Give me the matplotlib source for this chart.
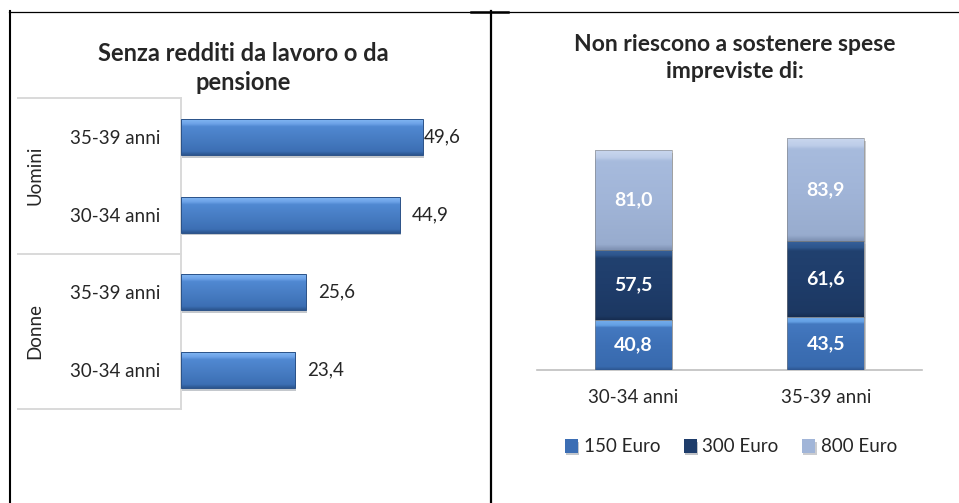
import matplotlib.pyplot as plt
import matplotlib.patheffects as pe
from matplotlib.colors import LinearSegmentedColormap
import numpy as np

plt.rcParams['font.family'] = ['Lato', 'DejaVu Sans']

W, H = 959, 503

# grafico sinistro: senza redditi da lavoro o da pensione
gruppi = ["Uomini", "Donne"]
etichette_sx = ["35-39 anni", "30-34 anni", "35-39 anni", "30-34 anni"]
valori_sx = [49.6, 44.9, 25.6, 23.4]

# grafico destro: spese impreviste
categorie_dx = ["30-34 anni", "35-39 anni"]
euro150 = [40.8, 43.5]
euro300 = [57.5, 61.6]
euro800 = [81.0, 83.9]
nomi_serie = ["150 Euro", "300 Euro", "800 Euro"]


#box: pixel (x0,y0,x1,y1) -> rettangolo in coordinate figura
def box(x0, y0, x1, y1):
    return [x0 / W, 1 - y1 / H, (x1 - x0) / W, (y1 - y0) / H]


def virgola(v):
    return f"{v:.1f}".replace(".", ",")


#sfuma: riempie ogni barra con un gradiente verticale (effetto rilievo)
def sfuma(ax, barre, colori):
    cmap = LinearSegmentedColormap.from_list("g", colori)
    grad = np.linspace(0, 1, 64).reshape(-1, 1)
    for p in barre:
        x0, y0 = p.get_x(), p.get_y()
        im = ax.imshow(grad, extent=[x0, x0 + p.get_width(), y0, y0 + p.get_height()],
                       origin="lower", aspect="auto", cmap=cmap, zorder=3,
                       interpolation="bilinear")
        im.set_clip_path(p)


testo = "#262626"
fig = plt.figure(figsize=(W / 100, H / 100), dpi=100)

# cornice della tabella
cornice = fig.add_axes([0, 0, 1, 1])
cornice.set_xlim(0, W)
cornice.set_ylim(H, 0)
cornice.axis("off")
cornice.plot([9.5, 9.5], [11, H], color="black", lw=1.5)
cornice.plot([9, W], [11.5, 11.5], color="black", lw=0.9)
cornice.plot([471, 508], [11.5, 11.5], color="black", lw=1.8)
cornice.plot([491, 491], [11, H], color="black", lw=1.6)

ombra = [pe.SimplePatchShadow(offset=(1, -2), alpha=0.25), pe.Normal()]

# ---- grafico a barre orizzontali ----
ax1 = fig.add_axes(box(181, 98, 449, 409))
n = len(valori_sx)
y = np.arange(n)[::-1]
h = 0.46
b1 = ax1.barh(y, valori_sx, height=h, color="#4A7EC4", lw=0, zorder=2)
for p in b1:
    p.set_path_effects(ombra)
sfuma(ax1, b1, [(0, "#2C5690"), (0.1, "#3C6FB4"), (0.55, "#4A80C7"),
                (0.8, "#5089D2"), (0.88, "#6EA3E8"), (1, "#80B6F2")])
ax1.barh(y, valori_sx, height=h, fill=False, edgecolor="#2B5288", lw=0.7, zorder=4)
for yi, v in zip(y, valori_sx):
    ax1.text(min(v + 2.46, 49.8), yi, virgola(v), va="center", ha="left",
             fontsize=13.5, color=testo)
ax1.set_xlim(0, 55)
ax1.set_ylim(-0.5, 3.5)
ax1.set_xticks([])
ax1.set_yticks(y, etichette_sx, fontsize=13.5, color=testo)
ax1.tick_params(axis="y", length=0, pad=15)
for s in ["top", "right", "bottom"]:
    ax1.spines[s].set_visible(False)
ax1.spines["left"].set_color("#D9D9D9")
ax1.spines["left"].set_linewidth(1.4)
tr = ax1.get_yaxis_transform()
for yy in [-0.5, 1.5, 3.5]:
    ax1.plot([-163 / 268, 0], [yy, yy], color="#D9D9D9", lw=1.4,
             transform=tr, clip_on=False)
for g, yy in zip(gruppi, [2.5, 0.5]):
    ax1.text(-146 / 268, yy, g, rotation=90, ha="center", va="center",
             fontsize=13.5, color=testo, transform=tr)
fig.text(243 / W, 1 - 68 / H, "Senza redditi da lavoro o da\npensione",
         ha="center", va="center", fontsize=17, fontweight="bold",
         color=testo, linespacing=1.28)

# ---- grafico a colonne impilate ----
ax2 = fig.add_axes(box(537, 125, 922, 370))
x = np.arange(len(categorie_dx))
w = 0.4
serie = [euro150, euro300, euro800]
colori = ["#3C6EB4", "#1F3D6B", "#A1B5D8"]
gradienti = [
    [(0, "#2E5792"), (0.06, "#386AAE"), (0.5, "#3D70B6"), (0.86, "#4479C0"),
     (0.9, "#63A0E4"), (1, "#74ACEC")],
    [(0, "#172E52"), (0.05, "#1C3862"), (0.5, "#1F3D6B"), (0.88, "#21416F"),
     (0.92, "#2D558C"), (1, "#36609A")],
    [(0, "#8093B5"), (0.05, "#98ACCE"), (0.5, "#A1B5D8"), (0.9, "#A7BBDD"),
     (0.93, "#BCCCE8"), (1, "#C8D6EE")],
]
base = np.zeros(len(x))
maniglie = []
for vals, c, gr in zip(serie, colori, gradienti):
    vals = np.array(vals)
    b = ax2.bar(x, vals, width=w, bottom=base, color=c, lw=0, zorder=2)
    for p in b:
        p.set_path_effects(ombra)
    sfuma(ax2, b, gr)
    ax2.bar(x, vals, width=w, bottom=base, fill=False, edgecolor="#7F7F7F",
            lw=0.4, zorder=4)
    maniglie.append(b)
    for xi, bi, v in zip(x, base, vals):
        ax2.text(xi, bi + v / 2, virgola(v), ha="center", va="center",
                 color="white", fontsize=14, fontweight="bold", zorder=5)
    base = base + vals
ax2.set_xlim(-0.5, 1.5)
ax2.set_ylim(0, 200)
ax2.set_yticks([])
ax2.set_xticks(x, categorie_dx, fontsize=13.5, color=testo)
ax2.tick_params(axis="x", length=0, pad=14)
for s in ["top", "right", "left"]:
    ax2.spines[s].set_visible(False)
ax2.spines["bottom"].set_color("#BFBFBF")
ax2.spines["bottom"].set_linewidth(1.2)
fig.legend(maniglie, nomi_serie, loc="center", bbox_to_anchor=(731 / W, 1 - 447 / H),
           ncol=3, frameon=False, handlelength=0.7, handleheight=0.7,
           handletextpad=0.3, columnspacing=1.25, fontsize=13.5,
           labelcolor=testo)
fig.text(735 / W, 1 - 58 / H, "Non riescono a sostenere spese\nimpreviste di:",
         ha="center", va="center", fontsize=16.5, fontweight="bold",
         color=testo, linespacing=1.3)

fig.savefig("out.png", dpi=100)
